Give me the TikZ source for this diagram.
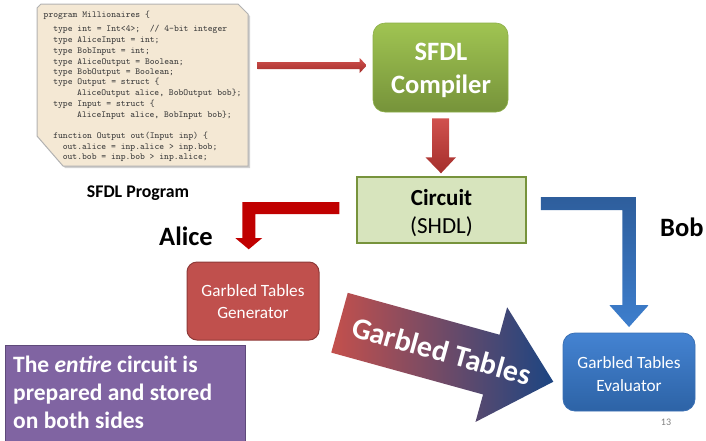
\documentclass[tikz,border=0pt]{standalone}
\usepackage{fontspec}
\setmainfont{Carlito}
\usetikzlibrary{calc}
\definecolor{paperc}{HTML}{F4E8D4}
\definecolor{codec}{HTML}{3A3A3A}
\definecolor{cgreenT}{HTML}{A0C452}
\definecolor{cgreenB}{HTML}{76933A}
\definecolor{cgreenD}{HTML}{8CAE48}
\definecolor{circfill}{HTML}{D7E4BD}
\definecolor{circdraw}{HTML}{77933C}
\definecolor{redT}{HTML}{D0514E}
\definecolor{redB}{HTML}{A52F2C}
\definecolor{alicered}{HTML}{C00000}
\definecolor{genfill}{HTML}{C0504D}
\definecolor{gendraw}{HTML}{8E3A38}
\definecolor{blueT}{HTML}{2E5E9C}
\definecolor{blueB}{HTML}{3D7ECD}
\definecolor{evalT}{HTML}{4483D2}
\definecolor{evalB}{HTML}{2D63A6}
\definecolor{evaldraw}{HTML}{3B70B4}
\definecolor{purp}{HTML}{8064A2}
\definecolor{purpdraw}{HTML}{5E4A7A}
\definecolor{gtL}{HTML}{C4504C}
\definecolor{gtR}{HTML}{1C4582}
\begin{document}
\begin{tikzpicture}[x=1pt,y=-1pt,
  code/.style={anchor=base west, inner sep=0, text=codec, font=\fontsize{9.2}{10}\selectfont\ttfamily},
  boxtxt/.style={anchor=base, inner sep=0},
  bigtxt/.style={anchor=base west, inner sep=0, font=\fontsize{26.5}{28}\selectfont\bfseries},
  notetxt/.style={anchor=base west, inner sep=0, text=white, font=\fontsize{23.5}{28}\selectfont\bfseries}]
\useasboundingbox (0,0) rectangle (706,440);
\clip (0,0) rectangle (706,440);

% paper with code
\node[minimum width=211pt, minimum height=162pt, inner sep=0] (paper) at (142.5,85) {};
\fill[black!18] (39,10)--(43,6)--(240,6)--(250,16)--(250,168)--(65,168)--(39,138)--cycle;
\filldraw[fill=paperc, draw=black!30, line width=1pt] (37,8)--(41,4)--(238,4)--(248,14)--(248,166)--(63,166)--(37,136)--cycle;
\node[code] (c1) at (43.5,17) {program Millionaires \{};
\node[code] (c2) at (53.1,31.3) {type int = Int<4>;\ \ // 4-bit integer};
\node[code] (c3) at (53.1,42.7) {type AliceInput = int;};
\node[code] (c4) at (53.1,53.7) {type BobInput = int;};
\node[code] (c5) at (53.1,64) {type AliceOutput = Boolean;};
\node[code] (c6) at (53.1,74.7) {type BobOutput = Boolean;};
\node[code] (c7) at (53.1,84.7) {type Output = struct \{};
\node[code] (c8) at (77,95.3) {AliceOutput alice, BobOutput bob\};};
\node[code] (c9) at (53.1,106.3) {type Input = struct \{};
\node[code] (c10) at (77,117) {AliceInput alice, BobInput bob\};};
\node[code] (c11) at (53.1,138.7) {function Output out(Input inp) \{};
\node[code] (c12) at (62.6,149.3) {out.alice = inp.alice > inp.bob;};
\node[code] (c13) at (62.6,159.7) {out.bob = inp.bob > inp.alice;};
\node[boxtxt, font=\fontsize{17.8}{20}\selectfont\bfseries] (plabel) at (138,197.5) {SFDL Program};

% compiler
\node[draw=cgreenD, line width=0.6pt, top color=cgreenT, bottom color=cgreenB, rounded corners=12pt,
      minimum width=135pt, minimum height=89pt, inner sep=0] (comp) at (440.5,67.5) {};
\node[boxtxt, text=white, font=\fontsize{26.5}{30}\selectfont\bfseries] (comp1) at (441,60) {SFDL};
\node[boxtxt, text=white, font=\fontsize{26.5}{30}\selectfont\bfseries] (comp2) at (441,93.3) {Compiler};

% circuit
\node[draw=circdraw, fill=circfill, line width=1.5pt, minimum width=169pt, minimum height=66pt, inner sep=0] (circ) at (441.5,210) {};
\node[boxtxt, font=\fontsize{23}{26}\selectfont\bfseries] (circ1) at (441.5,205) {Circuit};
\node[boxtxt, font=\fontsize{23}{26}\selectfont] (circ2) at (441.5,233) {(SHDL)};

% generator
\node[draw=gendraw, fill=genfill, line width=1pt, rounded corners=10pt, minimum width=132pt, minimum height=78pt, inner sep=0] (gen) at (253,301) {};
\node[boxtxt, text=white, font=\fontsize{17.2}{20}\selectfont] (gen1) at (253,296) {Garbled Tables};
\node[boxtxt, text=white, font=\fontsize{17.2}{20}\selectfont] (gen2) at (253,318) {Generator};

% evaluator
\node[draw=evaldraw, line width=0.8pt, top color=evalT, bottom color=evalB, rounded corners=12pt, minimum width=132pt, minimum height=78pt, inner sep=0] (eval) at (629,372) {};
\node[boxtxt, text=white, font=\fontsize{17.2}{20}\selectfont] (eval1) at (629,368) {Garbled Tables};
\node[boxtxt, text=white, font=\fontsize{17.2}{20}\selectfont] (eval2) at (629,391) {Evaluator};

% note
\node[draw=purpdraw, fill=purp, line width=1pt, minimum width=240pt, minimum height=100pt, inner sep=0] (note) at (125,395) {};
\node[notetxt] (n1) at (13,372) {The \textit{entire} circuit is};
\node[notetxt] (n2) at (13,400) {prepared and stored};
\node[notetxt] (n3) at (13,428) {on both sides};

% labels
\node[bigtxt] (alice) at (159,245) {Alice};
\node[bigtxt] (bob) at (660,236) {Bob};
\node[boxtxt, text=black!50, font=\fontsize{10}{12}\selectfont] (pnum) at (666,425.7) {13};

% paper -> compiler
\begin{scope}[shift={(comp.west)}]
\shade[top color=redT, bottom color=redB] (-115,-5.5)--(-13,-5.5)--(-13,-9.5)--(-6,-2)--(-13,5.5)--(-13,1.5)--(-115,1.5)--cycle;
\end{scope}
% compiler -> circuit
\begin{scope}[shift={(comp.south)}]
\shade[top color=redT, bottom color=redB] (-8.5,6)--(8.5,6)--(8.5,45)--(15.5,45)--(0.5,61)--(-15,45)--(-8.5,45)--cycle;
\end{scope}
% circuit -> generator (Alice)
\begin{scope}[shift={(circ.west)}]
\fill[alicered] (-17,-8)--(-114,-8)--(-114,28)--(-121,28)--(-107.5,39.3)--(-94,28)--(-101,28)--(-101,4)--(-17,4)--cycle;
\end{scope}
% circuit -> evaluator (Bob)
\begin{scope}[shift={(circ.east)}]
\shade[top color=blueT, bottom color=blueB] (14,-13)--(109,-13)--(109,95)--(122,95)--(102.3,117)--(82.6,95)--(95.7,95)--(95.7,0)--(14,0)--cycle;
\end{scope}
% garbled tables arrow
\begin{scope}[shift={(339.5,322.7)}, rotate=-15.43]
\shade[left color=gtL, right color=gtR] (0,-31)--(157.5,-31)--(157.5,-59.5)--(221.8,0)--(157.5,59.5)--(157.5,31)--(0,31)--cycle;
\node[rotate=-15.43, text=white, inner sep=0, font=\fontsize{30}{32}\selectfont\bfseries] (gtxt) at (106,0) {Garbled Tables};
\end{scope}
\end{tikzpicture}
\end{document}
